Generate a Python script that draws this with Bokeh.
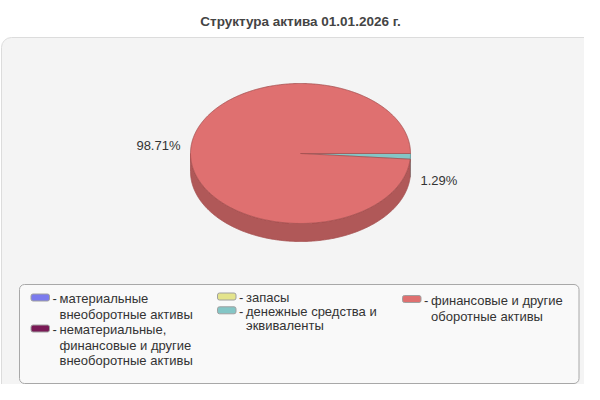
import math
import textwrap
import numpy as np
from bokeh.plotting import figure
from bokeh.models import Range1d
from bokeh.core.properties import value
from bokeh.embed import file_html
from bokeh.resources import INLINE

# ---- data ----
title_text = "Структура актива 01.01.2026 г."
categories = [
    "материальные внеоборотные активы",
    "нематериальные, финансовые и другие внеоборотные активы",
    "запасы",
    "денежные средства и эквиваленты",
    "финансовые и другие оборотные активы",
]
shares = [0.0, 0.0, 0.0, 1.29, 98.71]

# ---- styles ----
colors = ["#7b7bee", "#7a1a56", "#e4e48c", "#84c6c6", "#df7070"]
side_colors = ["#5c5cb2", "#5b1340", "#abab69", "#72b0b0", "#b05858"]
edge_colors = ["#5050a0", "#4a1034", "#9a9a5a", "#6a9e9e", "#a65050"]
legend_cols = [0, 0, 1, 1, 2]
FONT = "Liberation Sans"

p = figure(width=584, height=384, x_range=Range1d(0, 584), y_range=Range1d(384, 0),
           output_backend="svg", toolbar_location=None, min_border=0,
           x_axis_location=None, y_axis_location=None,
           background_fill_color="white", border_fill_color="white",
           outline_line_color=None)
p.grid.visible = False

# title
p.text(x=[300], y=[21], text=[title_text], text_align="center", text_baseline="middle",
       text_font=value(FONT), text_font_size=value("13.5px"), text_font_style="bold",
       text_color="#444444")

# panel
p.quad(left=1, right=597, top=37, bottom=397, fill_color="#f4f4f4",
       line_color="#dcdcdc", line_width=1, border_radius=10)

# legend box
p.quad(left=19, right=578.5, top=284, bottom=383, fill_color="#f9f9f9",
       line_color="#a8a8a8", line_width=1, border_radius=5)

# ---- 3D pie ----
cx, cy, rx, ry, depth = 300.0, 153.0, 110.0, 70.0, 18.0
total = float(sum(shares))
start = 0.0
side_xs, side_ys, side_fc, side_lc = [], [], [], []
top_xs, top_ys, top_fc, top_lc = [], [], [], []
labels_left = dict(x=[], y=[], text=[])
labels_right = dict(x=[], y=[], text=[])
for s, c, sc, ec in zip(shares, colors, side_colors, edge_colors):
    if s <= 0:
        continue
    a0 = start
    a1 = start + 2 * math.pi * s / total
    start = a1
    n = max(3, int(math.ceil((a1 - a0) / 0.01)))
    t = np.linspace(a0, a1, n)
    ex = cx + rx * np.cos(t)
    ey = cy + ry * np.sin(t)
    top_xs.append([cx] + list(ex))
    top_ys.append([cy] + list(ey))
    top_fc.append(c)
    top_lc.append(ec)
    f0, f1 = max(a0, 0.0), min(a1, math.pi)
    if f1 > f0:
        tf = np.linspace(f0, f1, max(3, int(math.ceil((f1 - f0) / 0.01))))
        fx = cx + rx * np.cos(tf)
        fy = cy + ry * np.sin(tf)
        side_xs.append(list(fx) + list(fx[::-1]))
        side_ys.append(list(fy) + list((fy + depth)[::-1]))
        side_fc.append(sc)
        side_lc.append(ec)
    m = (a0 + a1) / 2
    lab = f"{s:.2f}%"
    if math.cos(m) >= 0:
        labels_right["x"].append(cx + rx + 10)
        labels_right["y"].append(cy + ry * math.sin(m) + 24)
        labels_right["text"].append(lab)
    else:
        labels_left["x"].append(cx - rx - 10)
        labels_left["y"].append(cy + ry * math.sin(m) - 5)
        labels_left["text"].append(lab)

p.patches(xs=side_xs, ys=side_ys, fill_color=side_fc, line_color=side_lc, line_width=0.8)
p.patches(xs=top_xs, ys=top_ys, fill_color=top_fc, line_color=top_lc, line_width=0.8)

p.text(x=labels_left["x"], y=labels_left["y"], text=labels_left["text"],
       text_align="right", text_baseline="middle", text_font=value(FONT),
       text_font_size=value("13px"), text_color="#333333")
p.text(x=labels_right["x"], y=labels_right["y"], text=labels_right["text"],
       text_align="left", text_baseline="middle", text_font=value(FONT),
       text_font_size=value("13px"), text_color="#333333")

# ---- legend ----
col_x = [30.5, 217.0, 402.0]
col_y0 = [298.0, 297.0, 299.5]
col_lh = [15.5, 13.8, 16.0]
col_line = [0, 0, 0]
sw_w, sw_h = 18.5, 7.0
leg_x, leg_y, leg_t = [], [], []
dash_x, dash_y = [], []
sw_l, sw_r, sw_t, sw_b, sw_c = [], [], [], [], []
for name, c, col in zip(categories, colors, legend_cols):
    lines = textwrap.wrap(name, 20)
    y0 = col_y0[col] + col_line[col] * col_lh[col]
    x0 = col_x[col]
    sw_l.append(x0); sw_r.append(x0 + sw_w)
    sw_t.append(y0 - 1 - sw_h / 2); sw_b.append(y0 - 1 + sw_h / 2); sw_c.append(c)
    dash_x.append(x0 + sw_w + 3); dash_y.append(y0)
    for k, ln in enumerate(lines):
        leg_x.append(x0 + sw_w + 10)
        leg_y.append(y0 + k * col_lh[col])
        leg_t.append(ln)
    col_line[col] += len(lines)

p.quad(left=sw_l, right=sw_r, top=sw_t, bottom=sw_b, fill_color=sw_c,
       line_color="#a0a0a0", line_width=1, border_radius=2)
p.text(x=dash_x, y=dash_y, text=["-"] * len(dash_x), text_align="left",
       text_baseline="middle", text_font=value(FONT), text_font_size=value("13px"),
       text_color="#333333")
p.text(x=leg_x, y=leg_y, text=leg_t, text_align="left", text_baseline="middle",
       text_font=value(FONT), text_font_size=value("13px"), text_color="#333333")

open("out.html", "w").write(file_html(p, INLINE))
